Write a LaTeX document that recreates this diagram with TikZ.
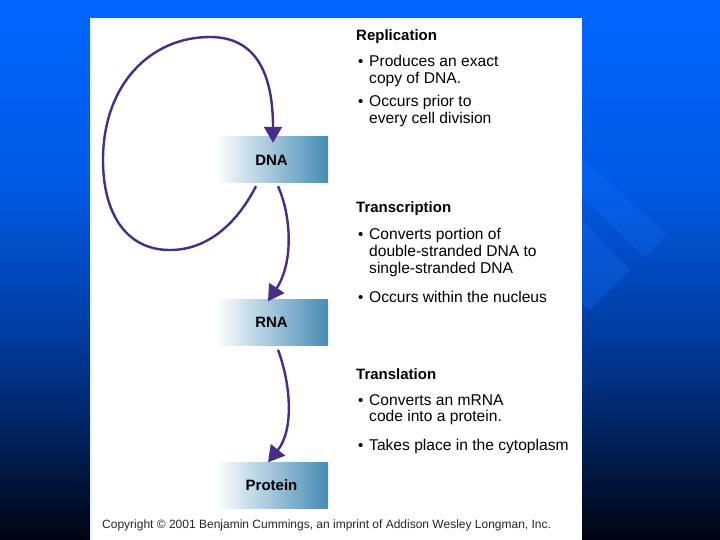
\documentclass[tikz,border=0pt]{standalone}
\usepackage{fontspec}
\setmainfont{Liberation Sans}
\usetikzlibrary{arrows.meta}
\definecolor{topblue}{RGB}{0,102,255}
\definecolor{bgA}{RGB}{0,90,228}
\definecolor{bgB}{RGB}{0,62,165}
\definecolor{bgC}{RGB}{0,35,95}
\definecolor{bgD}{RGB}{0,4,16}
\definecolor{boxblue}{RGB}{70,140,182}
\definecolor{arrowpurple}{RGB}{72,44,134}
\definecolor{chev}{RGB}{20,110,250}
\pgfdeclareverticalshading{bgshade}{100bp}{color(0bp)=(bgD); color(25bp)=(bgD); color(35bp)=(bgC); color(45bp)=(bgB); color(58bp)=(bgA); color(75bp)=(topblue); color(100bp)=(topblue)}
\tikzset{
  stagebox/.style={minimum width=113pt, minimum height=46pt, inner sep=0pt, left color=white, right color=boxblue, font=\fontsize{15}{17}\selectfont\bfseries},
  flow/.style={draw=arrowpurple, line width=2.4pt, -{Triangle[width=18pt,length=16pt]}},
  head/.style={anchor=base west, inner sep=0pt, font=\fontsize{15}{17}\selectfont\bfseries},
  body/.style={anchor=base west, inner sep=0pt, font=\fontsize{15.6}{17}\selectfont},
  bul/.style={anchor=base west, inner sep=0pt, font=\fontsize{15}{17}\selectfont},
}
\begin{document}
\begin{tikzpicture}[x=1pt,y=-1pt]
\useasboundingbox (0,0) rectangle (720,540);
% background
\shade[shading=bgshade] (0,0) rectangle (720,540);
% chevrons
\fill[chev, opacity=0.3] (582,157) -- (667,235) -- (645,257) -- (582,197) -- cycle;
\fill[chev, opacity=0.3] (582,220) -- (630,270) -- (590,310) -- (582,304) -- cycle;
% panel
\fill[white] (90,18) rectangle (582,540);
\draw[cyan!12, line width=2pt] (91,18) -- (91,540);
% boxes
\node[stagebox] (dna) at (271.5,160) {DNA};
\node[stagebox] (rna) at (271.5,322.5) {RNA};
\node[stagebox] (prot) at (271.5,485.5) {Protein};
% connectors
\draw[flow] ([xshift=-15.5pt,yshift=-3pt]dna.south)
  .. controls (235,227) and (205,250) .. (170,250)
  .. controls (125,250) and (103,212) .. (103,160)
  .. controls (103,85) and (150,37) .. (210,37)
  .. controls (255,37) and (273,72) .. ([xshift=1.5pt,yshift=-6pt]dna.north);
\draw[flow] ([xshift=6.5pt,yshift=-3pt]dna.south)
  .. controls (291,215) and (294,262) .. ([xshift=-3.5pt,yshift=-2pt]rna.north);
\draw[flow] ([xshift=6.5pt,yshift=-4pt]rna.south)
  .. controls (291,385) and (294,430) .. ([xshift=-3.5pt,yshift=0pt]prot.north);
% Replication text
\node[head] (h1) at (356,41) {Replication};
\node[bul] (b11) at (358,67) {•};
\node[body] (t11) at (369,67) {Produces an exact};
\node[body] (t12) at (369,84) {copy of DNA.};
\node[bul] (b12) at (358,107) {•};
\node[body] (t13) at (369,107) {Occurs prior to};
\node[body] (t14) at (369,124) {every cell division};
% Transcription text
\node[head] (h2) at (356,213) {Transcription};
\node[bul] (b21) at (358,240) {•};
\node[body] (t21) at (369,240) {Converts portion of};
\node[body] (t22) at (369,256) {double-stranded DNA to};
\node[body] (t23) at (369,273) {single-stranded DNA};
\node[bul] (b22) at (358,302) {•};
\node[body] (t24) at (369,302) {Occurs within the nucleus};
% Translation text
\node[head] (h3) at (356,379) {Translation};
\node[bul] (b31) at (358,405) {•};
\node[body] (t31) at (369,405) {Converts an mRNA};
\node[body] (t32) at (369,421) {code into a protein.};
\node[bul] (b32) at (358,450) {•};
\node[body] (t33) at (369,450) {Takes place in the cytoplasm};
% copyright
\node[anchor=base west, inner sep=0pt, font=\fontsize{12}{14}\selectfont, text=black!85] (copy) at (102,528) {Copyright © 2001 Benjamin Cummings, an imprint of Addison Wesley Longman, Inc.};
\end{tikzpicture}
\end{document}
